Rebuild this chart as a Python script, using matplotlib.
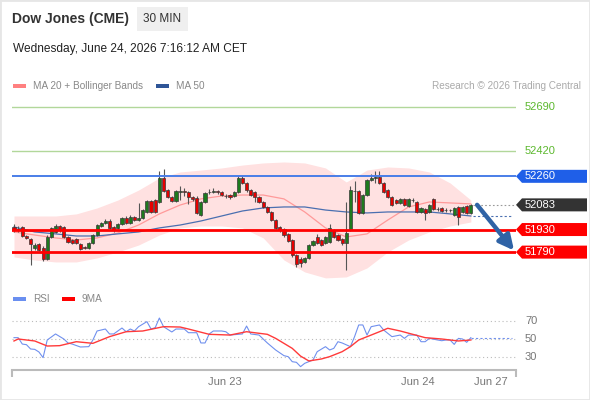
import matplotlib
matplotlib.use("Agg")
import matplotlib.pyplot as plt
from matplotlib.patches import Polygon, Rectangle
from matplotlib.transforms import IdentityTransform

plt.rcParams['font.family'] = ['Liberation Sans', 'DejaVu Sans']

W, H = 590, 400

# 30 min candles, Dow Jones (CME)
opens = [51946, 51935, 51945, 51890, 51870, 51816, 51841, 51816, 51748, 51884,
         51915, 51952, 51946, 51884, 51865, 51870, 51841, 51822, 51816, 51847,
         51896, 51952, 51970, 51983, 51946, 51940, 51965, 52002, 51971, 52008,
         51989, 52002, 52039, 52107, 52113, 52101, 52250, 52175, 52132, 52107,
         52163, 52166, 52163, 52132, 52125, 52020, 52101, 52160, 52165, 52168,
         52163, 52140, 52144, 52140, 52163, 52250, 52219, 52175, 52163, 52132,
         52101, 52070, 52039, 51989, 51946, 51935, 51900, 51865, 51772, 51750,
         51730, 51755, 51834, 51884, 51865, 51847, 51853, 51927, 51896, 51870,
         51847, 51927, 52170, 52166, 52033, 52144, 52237, 52250, 52255, 52219,
         52175, 52132, 52113, 52095, 52120, 52076, 52115, 52101, 52039, 52058,
         52039, 52120, 52060, 52064, 52052, 52050, 52020, 52070, 52039, 52076,
         52033]
closes = [51927, 51930, 51890, 51878, 51841, 51834, 51803, 51748, 51884, 51940,
          51952, 51927, 51884, 51853, 51847, 51847, 51810, 51818, 51847, 51896,
          51958, 51970, 51983, 51940, 51927, 51965, 52002, 51971, 52008, 51989,
          52002, 52051, 52107, 52039, 52039, 52250, 52169, 52132, 52107, 52169,
          52166, 52163, 52132, 52120, 52033, 52101, 52157, 52163, 52170, 52163,
          52144, 52138, 52132, 52163, 52250, 52219, 52175, 52144, 52132, 52101,
          52070, 52039, 51989, 51940, 51927, 51896, 51859, 51772, 51717, 51723,
          51755, 51834, 51860, 51847, 51834, 51884, 51940, 51884, 51865, 51847,
          51908, 52175, 52166, 52033, 52144, 52237, 52250, 52255, 52219, 52163,
          52132, 52082, 52095, 52120, 52082, 52120, 52113, 52039, 52064, 52033,
          52082, 52058, 52058, 52045, 52050, 52052, 52064, 52008, 52070, 52033,
          52083]
highs = [51965, 51955, 51952, 51896, 51878, 51845, 51848, 51828, 51895, 51948,
         51962, 51960, 51952, 51890, 51872, 51876, 51848, 51830, 51853, 51902,
         51966, 51978, 51995, 51995, 51952, 51970, 52010, 52014, 52020, 52014,
         52095, 52058, 52113, 52113, 52120, 52293, 52305, 52182, 52140, 52176,
         52200, 52190, 52170, 52140, 52140, 52108, 52165, 52180, 52185, 52178,
         52170, 52150, 52150, 52170, 52262, 52262, 52225, 52182, 52170, 52140,
         52108, 52076, 52045, 51996, 51952, 51940, 51906, 51872, 51780, 51760,
         51762, 51840, 51866, 51900, 51872, 51890, 51965, 51934, 51902, 51876,
         52100, 52200, 52230, 52175, 52150, 52245, 52275, 52290, 52295, 52226,
         52182, 52140, 52120, 52127, 52127, 52127, 52125, 52108, 52070, 52064,
         52089, 52127, 52070, 52070, 52062, 52060, 52070, 52076, 52076, 52082,
         52089]
lows = [51915, 51915, 51884, 51870, 51710, 51805, 51795, 51735, 51740, 51878,
        51910, 51915, 51878, 51845, 51840, 51840, 51800, 51810, 51810, 51840,
        51890, 51946, 51965, 51934, 51915, 51934, 51958, 51965, 51965, 51983,
        51983, 51996, 52033, 52033, 52033, 52095, 52160, 52126, 52100, 52100,
        52113, 52140, 52090, 52110, 52025, 52014, 52095, 52150, 52155, 52150,
        52138, 52125, 52120, 52132, 52155, 52210, 52165, 52138, 52100, 52095,
        52064, 52030, 51983, 51934, 51915, 51885, 51850, 51760, 51698, 51700,
        51720, 51748, 51828, 51840, 51825, 51840, 51846, 51876, 51858, 51835,
        51680, 51920, 52100, 52025, 52026, 52138, 52230, 52220, 52210, 52155,
        52125, 52076, 52088, 52088, 52076, 52070, 52100, 52033, 52033, 51990,
        52033, 52052, 52045, 52039, 52040, 52040, 52014, 51960, 52033, 52026,
        52026]

# MA 20 + Bollinger Bands, MA 50 (read every 5 candles)
band_idx = [0, 5, 10, 15, 20, 25, 30, 35, 40, 45, 50, 55, 60, 65, 70, 75, 80,
            85, 90, 95, 100, 105, 110]
bb_upper = [52014, 52014, 52014, 52027, 52064, 52113, 52175, 52250, 52287,
            52299, 52312, 52330, 52343, 52349, 52343, 52312, 52225, 52299,
            52318, 52312, 52287, 52219, 52113]
bb_lower = [51760, 51741, 51729, 51729, 51754, 51791, 51834, 51896, 51940,
            51952, 51952, 51940, 51878, 51741, 51667, 51630, 51636, 51692,
            51791, 51865, 51915, 51952, 51977]
ma20 = [51915, 51896, 51878, 51865, 51878, 51909, 51958, 52027, 52082, 52120,
        52138, 52144, 52144, 52120, 52039, 51940, 51884, 51903, 51989, 52070,
        52101, 52095, 52089]
ma50 = [51946, 51915, 51903, 51890, 51890, 51903, 51915, 51940, 51958, 51983,
        52014, 52045, 52064, 52070, 52070, 52051, 52039, 52033, 52039, 52039,
        52039, 52027, 52014]

# RSI and its 9 period MA
rsi_idx = [0, 1, 2, 3, 4, 5, 6, 7, 8, 10, 12, 13, 14, 16, 18, 19, 20, 22, 23,
           24, 26, 27, 28, 29, 30, 32, 33, 34, 35, 36, 38, 39, 41, 42, 44, 45,
           46, 47, 48, 50, 51, 52, 55, 56, 57, 59, 60, 61, 63, 65, 66, 67, 68,
           69, 70, 72, 73, 75, 76, 77, 78, 79, 81, 82, 83, 84, 85, 86, 88, 89,
           91, 93, 94, 95, 97, 98, 99, 100, 102, 103, 104, 105, 106, 107, 108,
           109, 110]
rsi_val = [51.5, 51.5, 44.4, 43.7, 38.9, 38.5, 35.6, 29.3, 48.9, 55.6, 50,
           45.6, 44.4, 41.1, 41.5, 48.9, 58.9, 61.1, 55.6, 55.6, 62.2, 58.1,
           61.1, 58.9, 63.7, 69.3, 61.1, 62.6, 73.3, 63.7, 57.8, 61.1, 61.1,
           57, 57, 45.6, 45.6, 55.6, 58.9, 58.9, 58.1, 54.4, 55.6, 64.4, 55.6,
           54.4, 50, 45.6, 37.8, 31.5, 30.4, 24.8, 24.1, 19.3, 23, 26.7, 35.9,
           41.5, 37.8, 39.6, 47, 45.6, 41.5, 52.6, 65.6, 65.6, 54.4, 63.7, 65.6,
           60, 52.6, 54.4, 50.7, 54.4, 54.4, 47, 47, 50.7, 48.9, 48.1, 48.9,
           48.9, 44, 50.7, 50, 46.3, 51.5]
ma9_idx = [0, 1, 5, 8, 11, 15, 19, 23, 27, 31, 36, 40, 42, 47, 52, 56, 61, 63,
           67, 69, 71, 74, 76, 79, 81, 83, 86, 88, 90, 93, 96, 99, 103, 107, 110]
ma9_val = [47.8, 50, 47.8, 42.2, 42.6, 47, 45.2, 52.6, 58.1, 58.9, 63.7, 63.3,
           61.1, 55.2, 54.4, 58.1, 55.2, 50.7, 39.6, 31, 25.6, 27.8, 30.4, 35.9,
           41.5, 48.9, 54.4, 58.1, 61.9, 58.9, 55.2, 51.5, 50, 47.8, 48.9]

# key levels
resist_plain = [52690, 52420]
pivot_level = 52260
supports = [51930, 51790]
last_price = 52083
target_price = 51800

date_pos = [50.7, 97.2, 114.8]
date_labels = ['Jun 23', 'Jun 24', 'Jun 27']
rsi_levels = [70, 50, 30]


def fx(px):
    return px / W


def fy(py):
    return 1 - py / H


fig = plt.figure(figsize=(W / 100, H / 100), dpi=100)
fig.patch.set_facecolor('white')
fig.add_artist(Rectangle((0, 0), 1, 1, transform=fig.transFigure, fill=False,
                         edgecolor='#e6e6e6', lw=2))

XL = (-0.48, 120.87)
ax = fig.add_axes([fx(12), fy(285), fx(504), 188 / H])
ax.set_xlim(*XL)
ax.set_ylim(51586, 52752)
ax.axis('off')

# bands
ax.fill_between(band_idx, bb_lower, bb_upper, color='#ffe1e1', lw=0, zorder=1)
ax.plot(band_idx, ma20, color='#ff9a9a', lw=0.9, zorder=2)
ax.plot(band_idx, ma50, color='#4a6fb0', lw=0.9, zorder=2)
n = len(closes)
ax.plot([n - 0.5, 120], [ma50[-1], ma50[-1]], color='#4a6fb0', lw=0.8,
        ls=(0, (2, 2)), zorder=2)
ax.plot([n - 0.5, XL[1]], [last_price, last_price], color='#999999', lw=0.8,
        ls=(0, (1.5, 2)), zorder=2)

# candles
for i in range(n):
    o, c = opens[i], closes[i]
    col = '#1e7a1e' if c >= o else '#e60000'
    ax.vlines(i, lows[i], highs[i], color='#555555', lw=0.8, zorder=3)
    ax.bar(i, max(abs(c - o), 2), bottom=min(o, c), width=0.75, color=col,
           edgecolor='#3a3a3a', lw=0.5, zorder=4)

# levels
for r in resist_plain:
    ax.axhline(r, color='#b2d79a', lw=1, zorder=5)
ax.axhline(pivot_level, color='#4a7ee8', lw=1.4, zorder=5)
for s in supports:
    ax.axhline(s, color='#ff0000', lw=2, zorder=5)

ax.annotate('', xy=(n + 9.4, target_price), xytext=(n + 0.5, last_price),
            arrowprops=dict(arrowstyle='-|>', lw=3.2, color='#2f63a6',
                            mutation_scale=22, shrinkA=0, shrinkB=0),
            zorder=6)

fig.canvas.draw()


def ypix(price):
    return ax.transData.transform((0, price))[1]


for p in resist_plain:
    fig.text(fx(525), ypix(p) / H, str(p), color='#5cb82e', fontsize=8,
             va='center', ha='left')


def tag(price, color):
    yd = ypix(price)
    pts = [(516, yd), (522, yd + 6.5), (587, yd + 6.5), (587, yd - 6.5),
           (522, yd - 6.5)]
    fig.add_artist(Polygon(pts, closed=True, transform=IdentityTransform(),
                           facecolor=color, edgecolor='none'))
    fig.text(fx(525), yd / H, str(price), color='white', fontsize=8,
             va='center', ha='left')


tag(pivot_level, '#1f5fe8')
tag(last_price, '#333333')
for s in supports:
    tag(s, '#ff0000')

# RSI panel
ar = fig.add_axes([fx(12), fy(370), fx(504), 65 / H])
ar.set_xlim(*XL)
ar.set_ylim(15.56, 87.78)
for s in ['top', 'right', 'left']:
    ar.spines[s].set_visible(False)
ar.spines['bottom'].set_color('#bbbbbb')
ar.spines['bottom'].set_linewidth(1.5)
ar.set_yticks([])
ar.set_xticks(date_pos)
ar.set_xticklabels(date_labels, fontsize=8, color='#777777')
ar.tick_params(axis='x', length=0, pad=5)
ar.set_xticks(list(XL), minor=True)
ar.tick_params(axis='x', which='minor', length=5, width=1.5, color='#bbbbbb')
for lv in rsi_levels:
    ar.axhline(lv, color='#bbbbbb', lw=0.8, ls=(0, (1, 2.5)))
ar.plot(rsi_idx, rsi_val, color='#7090ee', lw=0.8, zorder=3)
ar.plot(ma9_idx, ma9_val, color='#ff3a3a', lw=1.0, zorder=3)
ar.plot([rsi_idx[-1], 120], [rsi_val[-1], rsi_val[-1]], color='#7090ee',
        lw=0.8, ls=(0, (2, 2)), zorder=3)
fig.canvas.draw()
for lv in rsi_levels:
    yd = ar.transData.transform((0, lv))[1]
    fig.text(fx(525), yd / H, str(lv), color='#777777', fontsize=8,
             va='center', ha='left')

# header
fig.text(fx(12), fy(19), 'Dow Jones (CME)', fontsize=10, weight='bold',
         color='#333333', va='center')
fig.add_artist(Rectangle((fx(137), fy(31)), fx(51), 24 / H,
                         transform=fig.transFigure, facecolor='#efefef',
                         edgecolor='none'))
fig.text(fx(162.5), fy(19), '30 MIN', fontsize=8.5, color='#333333',
         va='center', ha='center')
fig.text(fx(13), fy(49), 'Wednesday, June 24, 2026 7:16:12 AM CET',
         fontsize=8.6, color='#222222', va='center')


# legends
def legend_item(x, y, color, label):
    fig.add_artist(Rectangle((fx(x), fy(y + 2)), fx(13), 4 / H,
                             transform=fig.transFigure, facecolor=color,
                             edgecolor='none'))
    fig.text(fx(x + 20), fy(y), label, fontsize=7.2, color='#888888',
             va='center')


legend_item(13, 86, '#ff8080', 'MA 20 + Bollinger Bands')
legend_item(156, 86, '#2f5597', 'MA 50')
legend_item(13, 299, '#6a8ff0', 'RSI')
legend_item(62, 299, '#ff0000', '9MA')
fig.text(fx(581), fy(86), 'Research \u00a9 2026 Trading Central', fontsize=7.2,
         color='#aaaaaa', va='center', ha='right')

fig.savefig('out.png', dpi=100)
